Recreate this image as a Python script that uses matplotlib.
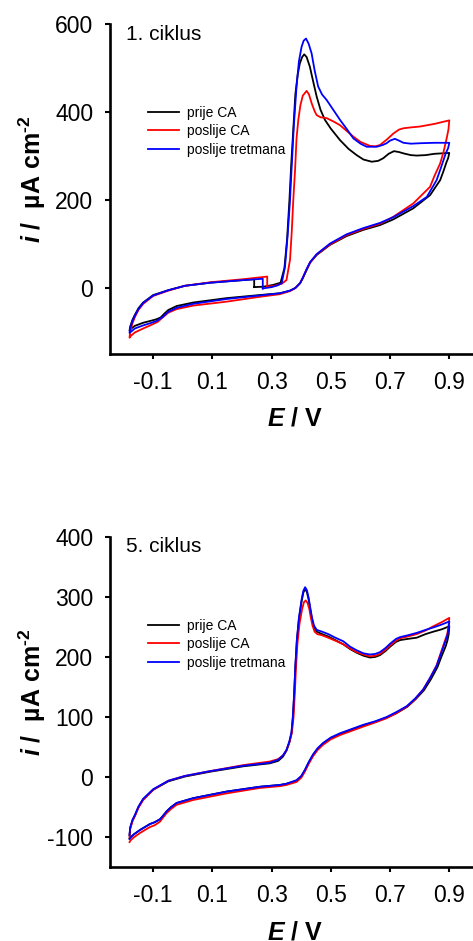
import matplotlib
matplotlib.use("Agg")
import matplotlib.pyplot as plt

plt.rcParams['font.family'] = ['Liberation Sans', 'DejaVu Sans']
plt.rcParams['mathtext.fontset'] = 'custom'
plt.rcParams['mathtext.rm'] = 'Liberation Sans:bold'
plt.rcParams['mathtext.it'] = 'Liberation Sans:italic'
plt.rcParams['mathtext.bf'] = 'Liberation Sans:bold'
plt.rcParams['mathtext.bfit'] = 'Liberation Sans:bold:italic'
plt.rcParams['axes.unicode_minus'] = False

# ---------------- data: cycle 1 ----------------
labels = ["prije CA", "poslije CA", "poslije tretmana"]
colors = ["#000000", "#ff0000", "#0000ff"]
xticks = [-0.1, 0.1, 0.3, 0.5, 0.7, 0.9]
xticklabels = ["-0.1", "0.1", "0.3", "0.5", "0.7", "0.9"]
yticks_c1 = [0, 200, 400, 600]
yticks_c5 = [-100, 0, 100, 200, 300, 400]

c1_black_E = [0.241, 0.272, 0.305, 0.33, 0.343, 0.352, 0.36, 0.366, 0.373, 0.38, 0.388, 0.395, 0.403, 0.41,
              0.418, 0.429, 0.44, 0.452, 0.465, 0.48, 0.50, 0.531, 0.56, 0.587, 0.61, 0.638, 0.66, 0.677,
              0.695, 0.713, 0.73, 0.745, 0.77, 0.79, 0.82, 0.85, 0.9,
              0.896, 0.891, 0.88, 0.869, 0.835, 0.778, 0.711, 0.666, 0.609, 0.553, 0.497, 0.452, 0.43,
              0.418, 0.405, 0.396, 0.38, 0.362, 0.328, 0.26, 0.148, 0.035, -0.021, -0.049, -0.062, -0.075,
              -0.089, -0.105, -0.134, -0.162, -0.176, -0.18,
              -0.178, -0.17, -0.162, -0.15, -0.134, -0.1, -0.049, 0.007, 0.092, 0.204, 0.241, 0.241]
c1_black_i = [2, 3, 7, 12, 45, 110, 200, 280, 360, 440, 485, 510, 525, 531,
              525, 503, 470, 435, 405, 382, 362, 336, 316, 302, 292, 287, 289, 295,
              305, 311, 309, 306, 302, 301, 302, 305, 307,
              295, 287, 265, 245, 211, 181, 156, 143, 132, 118, 98, 75, 58,
              41, 22, 11, 0, -6, -12, -16, -23, -33, -41, -50, -58, -67,
              -71, -74, -79, -86, -93, -97,
              -88, -72, -61, -46, -33, -16, -5, 5, 12, 18, 20, 2]

c1_red_E = [0.285, 0.31, 0.335, 0.35, 0.362, 0.368, 0.373, 0.379, 0.384, 0.39, 0.397, 0.405, 0.418,
            0.426, 0.435, 0.445, 0.452, 0.465, 0.486, 0.51, 0.531, 0.555, 0.576, 0.60, 0.632, 0.65,
            0.666, 0.69, 0.711, 0.73, 0.745, 0.77, 0.801, 0.85, 0.9,
            0.897, 0.891, 0.88, 0.869, 0.85, 0.835, 0.778, 0.711, 0.666, 0.609, 0.553, 0.497, 0.452,
            0.43, 0.418, 0.405, 0.396, 0.38, 0.362, 0.328, 0.26, 0.148, 0.035, -0.021, -0.049, -0.07,
            -0.085, -0.11, -0.134, -0.162, -0.176, -0.18,
            -0.178, -0.17, -0.162, -0.15, -0.134, -0.1, -0.049, 0.007, 0.092, 0.204, 0.285, 0.285]
c1_red_i = [3, 5, 10, 18, 64, 130, 200, 268, 340, 382, 415, 437, 448,
            440, 420, 402, 393, 388, 386, 378, 370, 356, 344, 332, 323, 322,
            325, 338, 351, 360, 363, 365, 367, 373, 381,
            360, 340, 308, 283, 255, 230, 192, 162, 146, 134, 120, 99, 76,
            58, 42, 23, 11, 0, -7, -14, -20, -31, -40, -48, -56, -68,
            -77, -85, -92, -101, -109, -113,
            -100, -80, -66, -50, -36, -18, -6, 5, 13, 20, 26, 3]

c1_blue_E = [0.27, 0.30, 0.32, 0.334, 0.345, 0.354, 0.362, 0.367, 0.375, 0.384, 0.392, 0.401, 0.408,
             0.416, 0.425, 0.435, 0.445, 0.457, 0.47, 0.486, 0.51, 0.531, 0.555, 0.576, 0.60, 0.621,
             0.655, 0.675, 0.688, 0.70, 0.716, 0.73, 0.745, 0.77, 0.801, 0.85, 0.9,
             0.896, 0.888, 0.87, 0.857, 0.824, 0.778, 0.711, 0.666, 0.609, 0.553, 0.497, 0.452, 0.43,
             0.418, 0.405, 0.396, 0.38, 0.362, 0.328, 0.26, 0.148, 0.035, -0.021, -0.049, -0.07,
             -0.089, -0.11, -0.134, -0.162, -0.176, -0.18,
             -0.178, -0.17, -0.162, -0.15, -0.134, -0.1, -0.049, 0.007, 0.092, 0.204, 0.27, 0.27]
c1_blue_i = [-1, 2, 6, 11, 48, 120, 200, 268, 370, 458, 515, 548, 562,
             567, 555, 533, 495, 458, 440, 427, 403, 382, 360, 340, 328, 321,
             321, 325, 329, 335, 339, 335, 330, 328, 329, 330, 330,
             318, 306, 270, 245, 207, 186, 161, 148, 136, 122, 101, 77, 59,
             43, 23, 11, 0, -6, -12, -17, -25, -36, -45, -54, -67,
             -75, -80, -85, -92, -100, -102,
             -92, -75, -63, -48, -34, -17, -5, 5, 12, 18, 21, -1]

# ---------------- data: cycle 5 ----------------
c5_black_E = [-0.18, -0.178, -0.17, -0.162, -0.15, -0.134, -0.1, -0.049, 0.007, 0.092, 0.204, 0.294,
              0.322, 0.338, 0.35, 0.36, 0.367, 0.372, 0.376, 0.38, 0.385, 0.392, 0.401, 0.407, 0.413,
              0.419, 0.425, 0.43, 0.436, 0.443, 0.452, 0.47, 0.491, 0.515, 0.542, 0.565, 0.587, 0.61,
              0.632, 0.65, 0.666, 0.685, 0.70, 0.72, 0.734, 0.76, 0.79, 0.82, 0.846, 0.875, 0.9,
              0.898, 0.894, 0.888, 0.873, 0.86, 0.838, 0.815, 0.787, 0.758, 0.72, 0.688, 0.65, 0.609,
              0.57, 0.531, 0.5, 0.474, 0.455, 0.44, 0.425, 0.412, 0.4, 0.384, 0.35, 0.328, 0.26, 0.148,
              0.035, -0.021, -0.04, -0.055, -0.068, -0.077, -0.095, -0.111, -0.145, -0.165, -0.176, -0.18]
c5_black_i = [-97, -85, -72, -64, -50, -37, -21, -7, 1, 9, 18, 23,
              27, 34, 44, 58, 73, 100, 138, 183, 226, 262, 292, 307, 313,
              308, 295, 280, 263, 249, 242, 238, 234, 228, 221, 213, 207, 202,
              199, 200, 203, 210, 217, 225, 228, 230, 232, 238, 242, 246, 251,
              238, 228, 218, 200, 183, 163, 145, 130, 117, 106, 99, 92, 86,
              79, 72, 65, 56, 47, 37, 24, 11, 1, -6, -11, -13, -16, -24,
              -35, -43, -50, -57, -65, -70, -75, -78, -88, -95, -100, -102]

c5_red_E = [-0.18, -0.178, -0.17, -0.162, -0.15, -0.134, -0.1, -0.049, 0.007, 0.092, 0.204, 0.294,
            0.322, 0.338, 0.35, 0.36, 0.368, 0.374, 0.378, 0.382, 0.387, 0.394, 0.403, 0.409, 0.415,
            0.421, 0.427, 0.432, 0.438, 0.445, 0.454, 0.47, 0.491, 0.515, 0.542, 0.565, 0.587, 0.61,
            0.632, 0.65, 0.666, 0.685, 0.70, 0.72, 0.734, 0.76, 0.79, 0.82, 0.846, 0.875, 0.9,
            0.897, 0.893, 0.886, 0.87, 0.857, 0.835, 0.812, 0.785, 0.756, 0.72, 0.688, 0.65, 0.609,
            0.57, 0.531, 0.5, 0.474, 0.455, 0.44, 0.425, 0.412, 0.4, 0.384, 0.35, 0.328, 0.26, 0.148,
            0.035, -0.021, -0.04, -0.055, -0.068, -0.077, -0.095, -0.111, -0.145, -0.165, -0.176, -0.18]
c5_red_i = [-100, -87, -73, -65, -51, -38, -21, -6, 2, 10, 20, 26,
            30, 36, 45, 58, 73, 100, 138, 180, 222, 255, 280, 291, 294,
            290, 280, 266, 252, 242, 238, 236, 232, 227, 221, 214, 208, 204,
            201, 202, 205, 212, 219, 227, 231, 234, 238, 244, 251, 258, 265,
            250, 238, 228, 205, 186, 165, 146, 130, 117, 106, 98, 91, 84,
            77, 70, 63, 54, 45, 35, 22, 9, -1, -8, -13, -15, -18, -27,
            -38, -46, -53, -60, -68, -74, -80, -83, -93, -100, -105, -108]

c5_blue_E = [-0.18, -0.178, -0.17, -0.162, -0.15, -0.134, -0.1, -0.049, 0.007, 0.092, 0.204, 0.294,
             0.322, 0.338, 0.35, 0.36, 0.367, 0.372, 0.376, 0.38, 0.385, 0.392, 0.401, 0.407, 0.413,
             0.419, 0.425, 0.43, 0.436, 0.443, 0.452, 0.47, 0.491, 0.515, 0.542, 0.565, 0.587, 0.61,
             0.632, 0.65, 0.666, 0.685, 0.70, 0.72, 0.734, 0.76, 0.79, 0.82, 0.846, 0.875, 0.9,
             0.897, 0.893, 0.886, 0.87, 0.857, 0.835, 0.812, 0.785, 0.756, 0.72, 0.688, 0.65, 0.609,
             0.57, 0.531, 0.5, 0.474, 0.455, 0.44, 0.425, 0.412, 0.4, 0.384, 0.35, 0.328, 0.26, 0.148,
             0.035, -0.021, -0.04, -0.055, -0.068, -0.077, -0.095, -0.111, -0.145, -0.165, -0.176, -0.18]
c5_blue_i = [-96, -84, -71, -63, -49, -36, -20, -6, 2, 10, 19, 24,
             29, 36, 45, 60, 75, 104, 140, 185, 228, 265, 295, 310, 316,
             311, 298, 283, 266, 252, 245, 242, 238, 232, 226, 217, 211, 206,
             204, 205, 208, 215, 222, 230, 233, 236, 240, 245, 249, 254, 259,
             245, 235, 225, 203, 185, 165, 146, 131, 118, 108, 100, 93, 87,
             80, 73, 66, 57, 48, 38, 25, 12, 2, -5, -11, -13, -16, -24,
             -35, -43, -50, -57, -65, -70, -75, -78, -88, -95, -100, -103]

panels = [
    dict(curves=[(c1_black_E, c1_black_i), (c1_red_E, c1_red_i), (c1_blue_E, c1_blue_i)],
         ylim=(-150, 600), yticks=yticks_c1, title="1. ciklus",
         rect=[110 / 473, 1 - 354 / 941, 363 / 473, 330 / 941]),
    dict(curves=[(c5_black_E, c5_black_i), (c5_red_E, c5_red_i), (c5_blue_E, c5_blue_i)],
         ylim=(-150, 400), yticks=yticks_c5, title="5. ciklus",
         rect=[110 / 473, 1 - 867.3 / 941, 363 / 473, 330.6 / 941]),
]

fig = plt.figure(figsize=(4.73, 9.41), dpi=100)

for p in panels:
    ax = fig.add_axes(p["rect"])
    for (E, I), c, lab in zip(p["curves"], colors, labels):
        ax.plot(E, I, color=c, lw=1.3, label=lab, solid_joinstyle='round')
    ax.set_xlim(-0.246, 0.98)
    ax.set_ylim(*p["ylim"])
    ax.set_xticks(xticks)
    ax.set_xticklabels(xticklabels)
    ax.set_yticks(p["yticks"])
    for s in ["top", "right"]:
        ax.spines[s].set_visible(False)
    for s in ["left", "bottom"]:
        ax.spines[s].set_linewidth(1.9)
    ax.tick_params(axis='both', direction='out', length=3.6, width=1.5, labelsize=16.5)
    ax.tick_params(axis='x', pad=8.5)
    ax.tick_params(axis='y', pad=8.5)
    ax.set_xlabel(r'$\mathbfit{E}$' + ' / V', fontsize=18, fontweight='bold')
    ax.xaxis.set_label_coords(0.51, -0.16)
    ax.set_ylabel(r'$\mathbfit{i}$' + ' /  µA cm' + r'$^{\text{-2}}$', fontsize=18, fontweight='bold')
    ax.yaxis.set_label_coords(-0.17, 0.53)
    ax.text(0.044, 0.953, p["title"], transform=ax.transAxes, fontsize=15, va='baseline', ha='left')
    ax.legend(loc='upper left', bbox_to_anchor=(0.1055, 0.752), frameon=False, fontsize=10,
              handlelength=2.2, handletextpad=0.6, labelspacing=0.32, borderpad=0, borderaxespad=0)

fig.savefig("out.png", dpi=100)
